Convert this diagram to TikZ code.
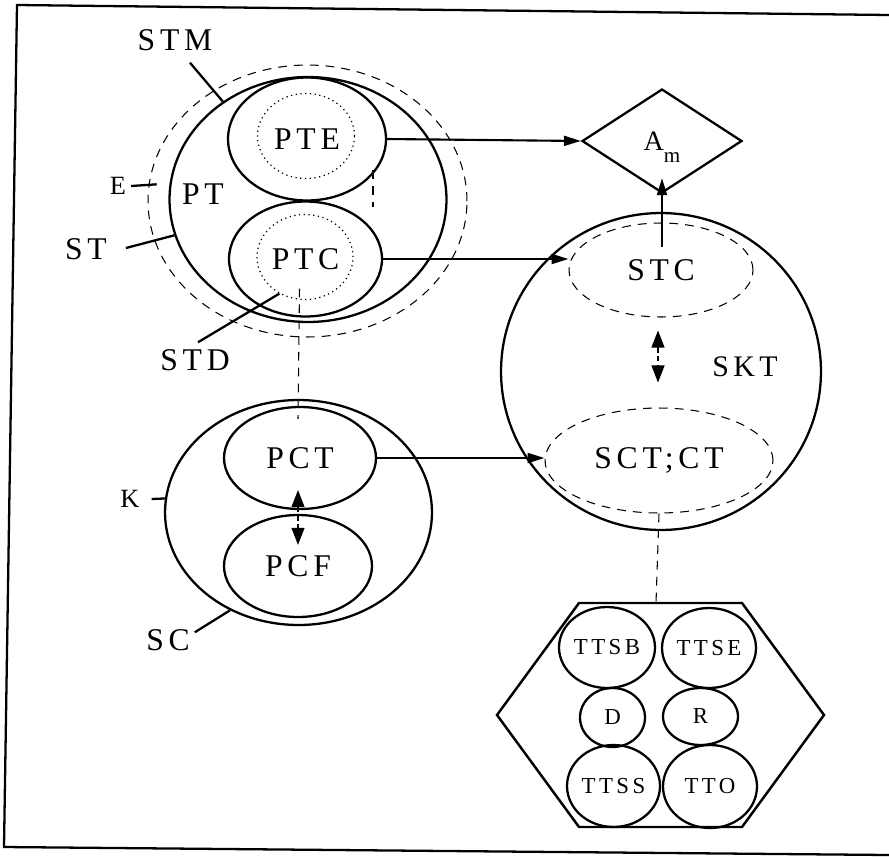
\documentclass[tikz,border=0pt]{standalone}
\usepackage{fontspec}
\setmainfont{Liberation Serif}[LetterSpace=15]
\usetikzlibrary{shapes.geometric, arrows.meta, calc}

\begin{document}
\begin{tikzpicture}[x=0.02cm, y=-0.02cm,
          ring/.style={ellipse, draw, line width=1.3pt, inner sep=0pt},
          halo/.style={ellipse, draw, line width=0.6pt,
                       dash pattern=on 5pt off 4pt, inner sep=0pt},
          core/.style={ellipse, draw, line width=0.7pt, dotted, inner sep=0pt},
          big/.style={font=\fontsize{18}{20}\selectfont, inner sep=1pt},
          small/.style={font=\fontsize{13}{15}\selectfont},
          tag/.style={line width=1.3pt},
          arr/.style={-{Triangle[length=0.34cm, width=0.2cm]}, line width=1.2pt},
          dbl/.style={{Triangle[length=0.34cm, width=0.26cm]}-{Triangle[length=0.34cm, width=0.26cm]},
                      line width=0.6pt, dash pattern=on 3pt off 2pt},
          link/.style={line width=0.6pt, dash pattern=on 5pt off 4pt}
        ]
        \useasboundingbox (0,0) rectangle (889,856);

        % page frame
        \draw[line width=1.3pt] (889,15) -- (17,5) -- (4,847) -- (889,855);

        % upper left group
        \node[halo, minimum width=6.38cm, minimum height=5.44cm] (st) at (307.5,201) {};
        \node[ring, minimum width=5.54cm, minimum height=4.9cm] (pt) at (308,199.5) {};
        \node[ring, big, minimum width=3.16cm, minimum height=2.46cm] (pte) at (307,139) {PTE};
        \node[core, minimum width=1.94cm, minimum height=1.7cm] (ptein) at (306,136) {};
        \node[ring, big, minimum width=3.06cm, minimum height=2.3cm] (ptc) at (305.5,259) {PTC};
        \node[core, minimum width=1.92cm, minimum height=1.7cm] (ptcin) at (305,257) {};
        \node[big] (ptl) at (203,194) {PT};

        % lower left group
        \node[ring, minimum width=5.34cm, minimum height=4.5cm] (sc) at (298.5,512.5) {};
        \node[ring, big, minimum width=3.04cm, minimum height=2.04cm] (pct) at (300,458) {PCT};
        \node[ring, big, minimum width=2.96cm, minimum height=2.04cm] (pcf) at (298,566) {PCF};

        % right group
        \node[diamond, draw, line width=1.3pt, inner sep=0pt,
              minimum width=3.2cm, minimum height=2.08cm] (am) at (662,141)
              {\fontsize{16}{18}\selectfont A\raisebox{-7pt}[0pt][0pt]{\fontsize{12}{12}\selectfont m}};
        \node[ring, minimum width=6.4cm, minimum height=6.34cm] (skt) at (661,371.5) {};
        \node[halo, big, minimum width=3.68cm, minimum height=1.88cm] (stc) at (661,270) {STC};
        \node[halo, big, minimum width=4.56cm, minimum height=2.1cm] (sct) at (659,460.5) {SCT;CT};
        \node[big, font=\fontsize{17}{19}\selectfont] (sktl) at (745,367) {SKT};

        % hexagon of sub-parts
        \draw[line width=1.4pt] (579,603) -- (742,603) -- (824,715) -- (742,827)
              -- (579,827) -- (497,715) -- cycle;
        \coordinate (hextop) at (656,603);
        \node[ring, small, minimum width=1.92cm, minimum height=1.62cm] (ttsb) at (607,647.5) {TTSB};
        \node[ring, small, minimum width=1.88cm, minimum height=1.6cm] (ttse) at (709,648) {TTSE};
        \node[ring, small, minimum width=1.3cm, minimum height=1.18cm] (d) at (612.5,717.5) {D};
        \node[ring, small, minimum width=1.5cm, minimum height=1.14cm] (r) at (700.5,716.5) {R};
        \node[ring, small, minimum width=1.86cm, minimum height=1.64cm] (ttss) at (613.5,786) {TTSS};
        \node[ring, small, minimum width=1.88cm, minimum height=1.66cm] (tto) at (710,786.5) {TTO};

        % outside labels
        \node[big] (stm) at (175,40) {STM};
        \node[font=\fontsize{15}{17}\selectfont, inner sep=1pt] (e) at (118,186) {E};
        \node[big] (stl) at (86,249) {ST};
        \node[big] (std) at (195,360) {STD};
        \node[font=\fontsize{15}{17}\selectfont, inner sep=1pt] (k) at (130,499) {K};
        \node[big] (scl) at (168,640) {SC};

        % leader lines
        \draw[tag] ($(stm.south)+(15,10)$) -- (pt.131);
        \draw[tag] ($(e.east)+(3,0)$) -- ($(st.174)+(8,0)$);
        \draw[tag] ($(stl.east)+(17,-1)$) -- (pt.195);
        \draw[tag] ($(std.north)+(3,-5)$) -- (ptcin.235);
        \draw[tag] ($(k.east)+(10,0)$) -- (sc.174);
        \draw[tag] ($(scl.north east)+(3,5)$) -- (sc.235);

        % arrows
        \draw[arr] (pte.east) -- (am.west);
        \draw[arr] (ptc.east) -- (ptc.east -| stc.west);
        \draw[arr] (pct.east) -- (pct.east -| sct.west);
        \draw[arr] ($(stc.center)+(1,-23)$) -- ($(am.south)+(0,-16)$);
        \draw[dbl] ($(stc.south)+(-3,13)$) -- ($(sct.north)+(-1,-25)$);
        \draw[dbl] ($(pct.south)+(-2,-20)$) -- ($(pcf.north)+(0,31)$);

        % dashed links
        \draw[link] ($(ptc.south)+(-6,-29)$) -- ($(pct.north)+(-2,13)$);
        \draw[link] (sct.south) -- (hextop);
        \coordinate (gapa) at (373,170);
        \coordinate (gapb) at (373,207);
        \draw[link] (gapa) -- (gapb);
      \end{tikzpicture}
\end{document}
